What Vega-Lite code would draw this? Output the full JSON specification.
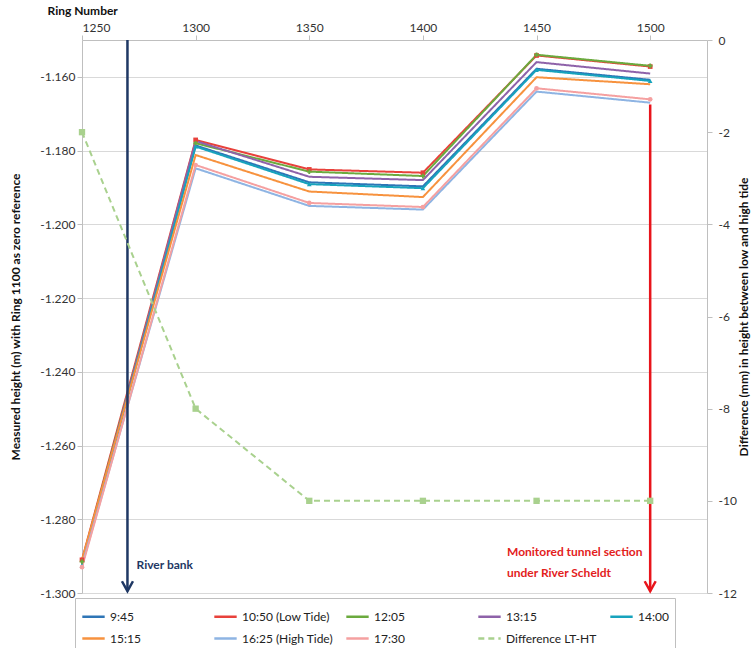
{
  "$schema": "https://vega.github.io/schema/vega-lite/v6.json",
  "width": 625,
  "height": 553,
  "autosize": {"type": "none"},
  "padding": {"left": 82, "top": 40, "right": 48, "bottom": 55},
  "background": "white",
  "config": {
    "view": {"stroke": null},
    "font": "Lato",
    "axis": {"labelFont": "Lato", "titleFont": "Lato", "labelFontSize": 12, "labelColor": "#333333", "titleFontSize": 12, "titleFontWeight": "bold", "titleColor": "#111111", "domainColor": "#BFBFBF", "tickColor": "#BFBFBF", "tickSize": 5, "gridColor": "#D9D9D9"}
  },
  "datasets": {
    "heights": [
      {"ring": 1250, "series": "9:45", "h": -1.2920},
      {"ring": 1300, "series": "9:45", "h": -1.1786},
      {"ring": 1350, "series": "9:45", "h": -1.1886},
      {"ring": 1400, "series": "9:45", "h": -1.1897},
      {"ring": 1450, "series": "9:45", "h": -1.1578},
      {"ring": 1500, "series": "9:45", "h": -1.1608},
      {"ring": 1250, "series": "10:50 (Low Tide)", "h": -1.2910},
      {"ring": 1300, "series": "10:50 (Low Tide)", "h": -1.1771},
      {"ring": 1350, "series": "10:50 (Low Tide)", "h": -1.1851},
      {"ring": 1400, "series": "10:50 (Low Tide)", "h": -1.1860},
      {"ring": 1450, "series": "10:50 (Low Tide)", "h": -1.1542},
      {"ring": 1500, "series": "10:50 (Low Tide)", "h": -1.1572},
      {"ring": 1250, "series": "12:05", "h": -1.2915},
      {"ring": 1300, "series": "12:05", "h": -1.1780},
      {"ring": 1350, "series": "12:05", "h": -1.1857},
      {"ring": 1400, "series": "12:05", "h": -1.1869},
      {"ring": 1450, "series": "12:05", "h": -1.1540},
      {"ring": 1500, "series": "12:05", "h": -1.1570},
      {"ring": 1250, "series": "13:15", "h": -1.2922},
      {"ring": 1300, "series": "13:15", "h": -1.1774},
      {"ring": 1350, "series": "13:15", "h": -1.1871},
      {"ring": 1400, "series": "13:15", "h": -1.1880},
      {"ring": 1450, "series": "13:15", "h": -1.1560},
      {"ring": 1500, "series": "13:15", "h": -1.1591},
      {"ring": 1250, "series": "14:00", "h": -1.2925},
      {"ring": 1300, "series": "14:00", "h": -1.1789},
      {"ring": 1350, "series": "14:00", "h": -1.1891},
      {"ring": 1400, "series": "14:00", "h": -1.1902},
      {"ring": 1450, "series": "14:00", "h": -1.1581},
      {"ring": 1500, "series": "14:00", "h": -1.1611},
      {"ring": 1250, "series": "15:15", "h": -1.2910},
      {"ring": 1300, "series": "15:15", "h": -1.1812},
      {"ring": 1350, "series": "15:15", "h": -1.1911},
      {"ring": 1400, "series": "15:15", "h": -1.1926},
      {"ring": 1450, "series": "15:15", "h": -1.1601},
      {"ring": 1500, "series": "15:15", "h": -1.1620},
      {"ring": 1250, "series": "16:25 (High Tide)", "h": -1.2925},
      {"ring": 1300, "series": "16:25 (High Tide)", "h": -1.1848},
      {"ring": 1350, "series": "16:25 (High Tide)", "h": -1.1950},
      {"ring": 1400, "series": "16:25 (High Tide)", "h": -1.1960},
      {"ring": 1450, "series": "16:25 (High Tide)", "h": -1.1640},
      {"ring": 1500, "series": "16:25 (High Tide)", "h": -1.1670},
      {"ring": 1250, "series": "17:30", "h": -1.2930},
      {"ring": 1300, "series": "17:30", "h": -1.1839},
      {"ring": 1350, "series": "17:30", "h": -1.1942},
      {"ring": 1400, "series": "17:30", "h": -1.1953},
      {"ring": 1450, "series": "17:30", "h": -1.1631},
      {"ring": 1500, "series": "17:30", "h": -1.1661}
    ],
    "diff": [
      {"ring": 1250, "series": "Difference LT-HT", "d": -2},
      {"ring": 1300, "series": "Difference LT-HT", "d": -8},
      {"ring": 1350, "series": "Difference LT-HT", "d": -10},
      {"ring": 1400, "series": "Difference LT-HT", "d": -10},
      {"ring": 1450, "series": "Difference LT-HT", "d": -10},
      {"ring": 1500, "series": "Difference LT-HT", "d": -10}
    ]
  },
  "encoding": {
    "x": {
      "field": "ring", "type": "quantitative",
      "scale": {"domain": [1250, 1525], "nice": false, "zero": false},
      "axis": {"orient": "top", "values": [1250, 1300, 1350, 1400, 1450, 1500], "format": "d", "grid": false, "title": "Ring Number", "titleAnchor": "start", "titleAlign": "left", "titleBaseline": "alphabetic", "titleX": -35, "titleY": -26, "labelPadding": 1}
    }
  },
  "layer": [
    {
      "encoding": {
        "y": {
          "field": "h", "type": "quantitative",
          "scale": {"domain": [-1.3, -1.15], "nice": false, "zero": false},
          "axis": {"orient": "left", "values": [-1.16, -1.18, -1.2, -1.22, -1.24, -1.26, -1.28, -1.3], "labelExpr": "replace(format(datum.value, '.3f'), '\u2212', '-')", "grid": true, "title": "Measured height (m) with Ring 1100 as zero reference", "titlePadding": 17}
        }
      },
      "layer": [
        {
          "data": {"name": "heights"},
          "mark": {"type": "line", "strokeWidth": 2},
          "encoding": {
            "color": {"field": "series", "type": "nominal", "sort": null,
              "scale": {"domain": ["9:45", "10:50 (Low Tide)", "12:05", "13:15", "14:00", "15:15", "16:25 (High Tide)", "17:30", "Difference LT-HT"],
                        "range": ["#2E75B6", "#E8413B", "#6BAA3E", "#8E62A9", "#17A3BD", "#F7923E", "#8EB4E3", "#F5A0A0", "#A9D18E"]},
              "legend": {"orient": "none", "legendX": -7, "legendY": 558, "direction": "horizontal", "columns": 5, "gridAlign": "all", "columnPadding": 8, "rowPadding": 3, "symbolType": "stroke", "symbolSize": 500, "symbolStrokeWidth": 2.5, "labelFontSize": 12, "labelFont": "Lato", "labelColor": "#222222", "title": null, "strokeColor": "#BFBFBF", "fillColor": "white", "padding": 6}},
            "strokeDash": {"field": "series", "type": "nominal", "sort": null,
              "scale": {"domain": ["9:45", "10:50 (Low Tide)", "12:05", "13:15", "14:00", "15:15", "16:25 (High Tide)", "17:30", "Difference LT-HT"],
                        "range": [[1, 0], [1, 0], [1, 0], [1, 0], [1, 0], [1, 0], [1, 0], [1, 0], [6, 4]]},
              "legend": {"orient": "none", "legendX": -7, "legendY": 558, "direction": "horizontal", "columns": 5, "gridAlign": "all", "columnPadding": 8, "rowPadding": 3, "symbolType": "stroke", "symbolSize": 500, "symbolStrokeWidth": 2.5, "labelFontSize": 12, "labelFont": "Lato", "labelColor": "#222222", "title": null, "strokeColor": "#BFBFBF", "fillColor": "white", "padding": 6}}
          }
        },
        {
          "data": {"name": "heights"},
          "transform": [{"filter": "datum.series != '9:45' && datum.series != '16:25 (High Tide)'"}],
          "mark": {"type": "point", "filled": true, "size": 22, "opacity": 1},
          "encoding": {
            "color": {"field": "series", "type": "nominal", "sort": null},
            "shape": {"field": "series", "type": "nominal", "legend": null,
              "scale": {"domain": ["10:50 (Low Tide)", "12:05", "13:15", "14:00", "15:15", "17:30"],
                        "range": ["square", "cross", "M-1,-1L1,1M-1,1L1,-1", "triangle-up", "stroke", "circle"]}}
          }
        },
        {
          "data": {"values": [{"ring": 1270, "h": -1.2995, "h2": -1.15}]},
          "layer": [
            {"mark": {"type": "rule", "strokeWidth": 2.5, "color": "#1F3864"}, "encoding": {"y2": {"field": "h2"}}},
            {"mark": {"type": "point", "shape": "M-1,-1.8L0,0L1,-1.8", "size": 121, "filled": false, "strokeWidth": 2.5, "color": "#1F3864", "opacity": 1}}
          ]
        },
        {
          "data": {"values": [{"ring": 1500, "h": -1.2995, "h2": -1.1675}]},
          "layer": [
            {"mark": {"type": "rule", "strokeWidth": 2.5, "color": "#E8141B"}, "encoding": {"y2": {"field": "h2"}}},
            {"mark": {"type": "point", "shape": "M-1,-1.8L0,0L1,-1.8", "size": 121, "filled": false, "strokeWidth": 2.5, "color": "#E8141B", "opacity": 1}}
          ]
        },
        {
          "data": {"values": [{"ring": 1274, "h": -1.2924, "label": "River bank"}]},
          "mark": {"type": "text", "align": "left", "baseline": "middle", "fontWeight": "bold", "fontSize": 12, "color": "#1F3864", "font": "Lato"},
          "encoding": {"text": {"field": "label"}}
        },
        {
          "data": {"values": [
            {"ring": 1437, "h": -1.2889, "label": "Monitored tunnel section"},
            {"ring": 1437, "h": -1.2946, "label": "under River Scheldt"}
          ]},
          "mark": {"type": "text", "align": "left", "baseline": "middle", "fontWeight": "bold", "fontSize": 12, "color": "#E3211C", "font": "Lato"},
          "encoding": {"text": {"field": "label"}}
        }
      ]
    },
    {
      "data": {"name": "diff"},
      "encoding": {
        "y": {
          "field": "d", "type": "quantitative",
          "scale": {"domain": [-12, 0], "nice": false, "zero": false},
          "axis": {"orient": "right", "values": [0, -2, -4, -6, -8, -10, -12], "labelExpr": "replace(format(datum.value, 'd'), '\u2212', '-')", "grid": false, "title": "Difference (mm) in height  between low and high tide", "titleAngle": 270, "titlePadding": 14, "labelPadding": 6}
        },
        "color": {"field": "series", "type": "nominal", "sort": null}
      },
      "layer": [
        {"mark": {"type": "line", "strokeWidth": 2},
         "encoding": {"strokeDash": {"field": "series", "type": "nominal", "sort": null}}},
        {"mark": {"type": "point", "shape": "square", "filled": true, "size": 40, "opacity": 1}}
      ]
    }
  ],
  "resolve": {"scale": {"y": "independent"}}
}
